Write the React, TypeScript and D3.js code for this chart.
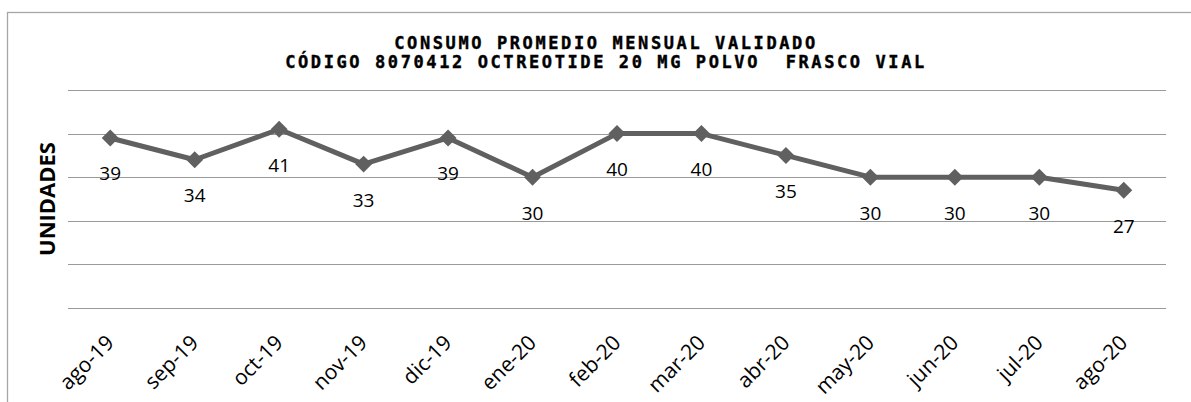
import { useEffect, useRef } from 'react';
import * as d3 from 'd3';

const months = [
  'ago-19', 'sep-19', 'oct-19', 'nov-19', 'dic-19', 'ene-20', 'feb-20',
  'mar-20', 'abr-20', 'may-20', 'jun-20', 'jul-20', 'ago-20',
];
const consumo = [39, 34, 41, 33, 39, 30, 40, 40, 35, 30, 30, 30, 27];
const gridTicks = [0, 10, 20, 30, 40, 50];
const titleLines = [
  'CONSUMO PROMEDIO MENSUAL VALIDADO',
  'CÓDIGO 8070412 OCTREOTIDE 20 MG POLVO  FRASCO VIAL',
];
const yTitle = 'UNIDADES';

const App = () => {
  const svgRef = useRef<SVGSVGElement>(null);

  useEffect(() => {
    if (!svgRef.current) return;
    const root = d3.select(svgRef.current);
    root.selectAll('*').remove();

    const width = 1191;
    const height = 402;
    const plot = { left: 68, right: 1166, top: 90, bottom: 308 };
    const lineColor = '#606060';

    // marco del gráfico
    root
      .append('rect')
      .attr('x', 7.5)
      .attr('y', 12.5)
      .attr('width', width + 50)
      .attr('height', height + 50)
      .attr('fill', '#fff')
      .attr('stroke', '#a6a6a6')
      .attr('stroke-width', 1.3);

    const x = d3.scalePoint<string>().domain(months).range([plot.left, plot.right]).padding(0.5);
    const y = d3.scaleLinear().domain([0, 50]).range([plot.bottom, plot.top]);

    // líneas de cuadrícula
    root
      .append('g')
      .selectAll('line')
      .data(gridTicks)
      .join('line')
      .attr('x1', plot.left)
      .attr('x2', plot.right)
      .attr('y1', (d) => Math.round(y(d)) + 0.5)
      .attr('y2', (d) => Math.round(y(d)) + 0.5)
      .attr('stroke', '#9a9a9a')
      .attr('stroke-width', 1.2);

    // título
    const title = root
      .append('text')
      .attr('text-anchor', 'middle')
      .style('font-family', '"DejaVu Sans Mono", monospace')
      .style('font-weight', 'bold')
      .style('font-size', '17px')
      .style('letter-spacing', '2.6px')
      .style('white-space', 'pre')
      .attr('fill', '#000')
      .attr('stroke', '#000')
      .attr('stroke-width', 0.4);
    titleLines.forEach((t, i) => {
      title
        .append('tspan')
        .attr('x', 606)
        .attr('y', 49 + i * 19)
        .text(t);
    });

    // título eje Y
    root
      .append('text')
      .attr('transform', `translate(55,${(plot.top + plot.bottom) / 2}) rotate(-90)`)
      .attr('text-anchor', 'middle')
      .style('font-family', '"Open Sans", sans-serif')
      .style('font-weight', 'bold')
      .style('font-size', '22px')
      .attr('fill', '#000')
      .text(yTitle);

    // etiquetas eje X
    root
      .append('g')
      .selectAll('text')
      .data(months)
      .join('text')
      .attr('transform', (d) => `translate(${(x(d) ?? 0) + 5},344) rotate(-45)`)
      .attr('text-anchor', 'end')
      .style('font-family', '"Open Sans", sans-serif')
      .style('font-size', '21px')
      .attr('fill', '#000')
      .text((d) => d);

    const pts = months.map((m, i) => ({ m, v: consumo[i] }));

    // línea
    root
      .append('path')
      .datum(pts)
      .attr('fill', 'none')
      .attr('stroke', lineColor)
      .attr('stroke-width', 5)
      .attr('stroke-linejoin', 'round')
      .attr(
        'd',
        d3
          .line<{ m: string; v: number }>()
          .x((d) => x(d.m) ?? 0)
          .y((d) => y(d.v))
      );

    // marcadores
    root
      .append('g')
      .selectAll('path')
      .data(pts)
      .join('path')
      .attr('transform', (d) => `translate(${x(d.m)},${y(d.v)}) rotate(45)`)
      .attr('d', d3.symbol(d3.symbolSquare, 144)())
      .attr('fill', lineColor);

    // etiquetas de datos
    root
      .append('g')
      .selectAll('text')
      .data(pts)
      .join('text')
      .attr('x', (d) => x(d.m) ?? 0)
      .attr('y', (d) => y(d.v) + 42.5)
      .attr('text-anchor', 'middle')
      .style('font-family', '"Open Sans", sans-serif')
      .style('font-size', '19px')
      .attr('fill', '#000')
      .text((d) => d.v);
  }, []);

  return (
    <div style={{ position: 'absolute', left: 0, top: 0 }}>
      <svg ref={svgRef} width={1191} height={402} style={{ display: 'block' }} />
    </div>
  );
};

export default App;
